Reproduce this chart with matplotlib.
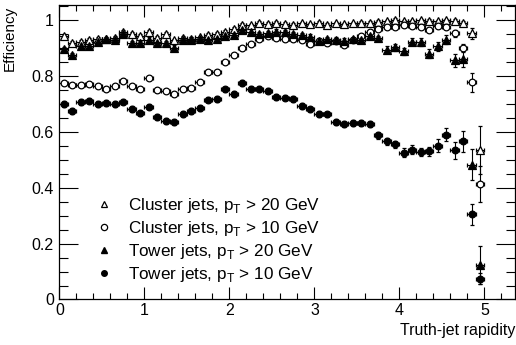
import numpy as np
import matplotlib
matplotlib.use("Agg")
import matplotlib.pyplot as plt
from matplotlib.lines import Line2D
from matplotlib.ticker import MultipleLocator, FormatStrFormatter

plt.rcParams['font.family'] = ['Liberation Sans', 'DejaVu Sans']
plt.rcParams['mathtext.fontset'] = 'custom'
plt.rcParams['mathtext.rm'] = 'Liberation Sans'

# rapidity bins, width 0.1 from 0 to 5
bin_centers = np.arange(50) * 0.1 + 0.05
bin_halfwidth = 0.05

eff_cluster20 = [0.944, 0.919, 0.922, 0.929, 0.932, 0.932, 0.935, 0.956, 0.950, 0.944,
                 0.958, 0.936, 0.950, 0.927, 0.935, 0.933, 0.937, 0.947, 0.950, 0.958,
                 0.968, 0.983, 0.980, 0.990, 0.986, 0.990, 0.986, 0.982, 0.988, 0.984,
                 0.990, 0.983, 0.988, 0.984, 0.988, 0.990, 0.990, 0.993, 0.995, 1.000,
                 0.995, 0.995, 0.998, 0.996, 0.995, 0.998, 0.995, 0.988, 0.952, 0.533]
err_cluster20 = [0.006] * 40 + [0.006, 0.006, 0.006, 0.006, 0.006,
                                0.006, 0.007, 0.009, 0.020, 0.086]

eff_cluster10 = [0.774, 0.768, 0.768, 0.770, 0.764, 0.754, 0.762, 0.780, 0.765, 0.754,
                 0.792, 0.750, 0.744, 0.735, 0.754, 0.758, 0.776, 0.814, 0.815, 0.851,
                 0.873, 0.900, 0.913, 0.933, 0.944, 0.935, 0.931, 0.931, 0.928, 0.915,
                 0.924, 0.917, 0.925, 0.909, 0.927, 0.942, 0.958, 0.969, 0.973, 0.975,
                 0.982, 0.979, 0.976, 0.964, 0.979, 0.975, 0.952, 0.899, 0.776, 0.414]
err_cluster10 = [0.007] * 40 + [0.007, 0.007, 0.007, 0.008, 0.008,
                                0.009, 0.012, 0.015, 0.033, 0.065]

eff_tower20 = [0.895, 0.873, 0.905, 0.905, 0.922, 0.930, 0.929, 0.950, 0.917, 0.917,
               0.929, 0.917, 0.917, 0.901, 0.929, 0.929, 0.930, 0.928, 0.932, 0.942,
               0.945, 0.965, 0.958, 0.950, 0.952, 0.958, 0.956, 0.949, 0.946, 0.940,
               0.926, 0.931, 0.929, 0.926, 0.930, 0.928, 0.942, 0.934, 0.893, 0.902,
               0.887, 0.922, 0.920, 0.879, 0.905, 0.929, 0.855, 0.860, 0.482, 0.123]
err_tower20 = [0.008] * 36 + [0.009, 0.010, 0.012, 0.012, 0.013, 0.013, 0.014,
                              0.015, 0.015, 0.016, 0.024, 0.030, 0.055, 0.068]

eff_tower10 = [0.699, 0.674, 0.706, 0.711, 0.700, 0.702, 0.699, 0.708, 0.682, 0.666,
               0.690, 0.652, 0.638, 0.635, 0.664, 0.675, 0.685, 0.715, 0.717, 0.751,
               0.734, 0.774, 0.753, 0.753, 0.747, 0.725, 0.722, 0.716, 0.692, 0.680,
               0.664, 0.662, 0.634, 0.628, 0.632, 0.632, 0.628, 0.587, 0.565, 0.555,
               0.525, 0.536, 0.527, 0.530, 0.550, 0.589, 0.533, 0.565, 0.304, 0.074]
err_tower10 = [0.010] * 34 + [0.010, 0.010, 0.011, 0.012, 0.012, 0.013, 0.015,
                              0.015, 0.015, 0.016, 0.023, 0.024, 0.029, 0.036, 0.036, 0.020]

labels = [r"Cluster jets, p$_{\mathregular{T}}$ > 20 GeV",
          r"Cluster jets, p$_{\mathregular{T}}$ > 10 GeV",
          r"Tower jets, p$_{\mathregular{T}}$ > 20 GeV",
          r"Tower jets, p$_{\mathregular{T}}$ > 10 GeV"]

fig = plt.figure(figsize=(5.16, 3.45), dpi=100)
ax = fig.add_axes([0.1153, 0.1319, 0.8827, 0.8527])

# open markers get a white face so the error bars don't cross them
series = [
    (eff_cluster20, err_cluster20, '^', 'white', 5.6),
    (eff_cluster10, err_cluster10, 'o', 'white', 4.8),
    (eff_tower20, err_tower20, '^', 'k', 5.2),
    (eff_tower10, err_tower10, 'o', 'k', 4.8),
]
for eff, err, mk, fc, ms in series:
    ax.errorbar(bin_centers, eff, yerr=err, xerr=bin_halfwidth, fmt=mk,
                mfc=fc, mec='k', mew=0.9, ms=ms, ecolor='k', elinewidth=0.8,
                capsize=1.2, capthick=0.8)

ax.set_xlim(0, 5.36)
ax.set_ylim(0, 1.052)

ax.xaxis.set_major_locator(MultipleLocator(1))
ax.xaxis.set_minor_locator(MultipleLocator(0.2))
ax.yaxis.set_major_locator(MultipleLocator(0.2))
ax.yaxis.set_minor_locator(MultipleLocator(0.05))
ax.xaxis.set_major_formatter(FormatStrFormatter('%g'))
ax.yaxis.set_major_formatter(FormatStrFormatter('%g'))

ax.tick_params(which='both', direction='in', top=True, right=True,
               labelsize=11.5, width=0.8)
ax.tick_params(axis='x', which='major', length=8.8, pad=2.5)
ax.tick_params(axis='x', which='minor', length=4.4)
ax.tick_params(axis='y', which='major', length=13.6, pad=4)
ax.tick_params(axis='y', which='minor', length=6.8)
for side in ax.spines.values():
    side.set_linewidth(0.9)

ax.set_xlabel("Truth-jet rapidity", fontsize=11.5, loc='right')
ax.xaxis.set_label_coords(1.0, -0.08)
ax.set_ylabel("Efficiency", fontsize=11, loc='top')
ax.yaxis.set_label_coords(-0.093, 1.0)

handles = [
    Line2D([], [], ls='none', marker='^', mfc='none', mec='k', mew=0.9, ms=5),
    Line2D([], [], ls='none', marker='o', mfc='none', mec='k', mew=0.9, ms=4.5),
    Line2D([], [], ls='none', marker='^', mfc='k', mec='k', ms=4.5),
    Line2D([], [], ls='none', marker='o', mfc='k', mec='k', ms=4),
]
ax.legend(handles, labels, loc='upper left', bbox_to_anchor=(0.045, 0.374),
          frameon=False, fontsize=12.3, handlelength=2.0, handletextpad=0.4,
          labelspacing=0.22, borderaxespad=0)

fig.savefig("out.png", dpi=100)
